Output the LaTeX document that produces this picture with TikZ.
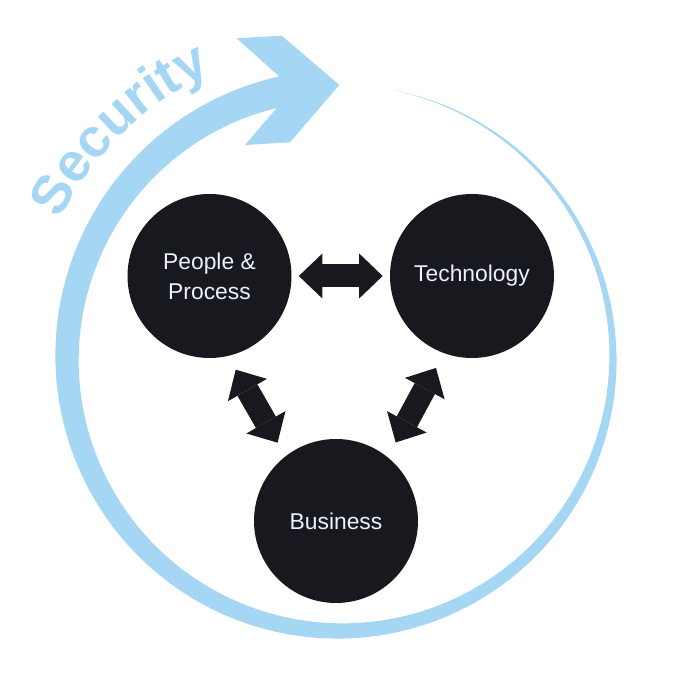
\documentclass[tikz,border=0pt]{standalone}
\usepackage{fontspec}
\setmainfont{Liberation Sans}
\usetikzlibrary{arrows.meta, decorations.text}

\definecolor{ringblue}{RGB}{165,214,244}
\definecolor{hubblack}{RGB}{24,25,30}
\definecolor{labelwhite}{RGB}{236,241,255}

\tikzset{
  hub/.style={circle, fill=hubblack, minimum size=3.28cm, inner sep=0pt,
    align=center, text=labelwhite, font=\fontsize{13}{17}\selectfont},
  link/.style={hubblack, line width=0.46cm,
    {Triangle[width=0.9cm, length=0.47cm, line width=0pt]}-{Triangle[width=0.9cm, length=0.47cm, line width=0pt]}},
}

\begin{document}
\begin{tikzpicture}
  \useasboundingbox (0,0) rectangle (13.52,13.68);

  % centre of the ring
  \coordinate (c) at (6.8,6.52);

  % ring that widens clockwise and ends in an arrow head
  \fill[ringblue]
    plot[domain=79:-257.8, samples=160, variable=\t]
      ({6.8+(5.46+0.0009*(79-\t))*cos(\t)}, {6.52+(5.46+0.0009*(79-\t))*sin(\t)})
    -- (4.734,12.914) -- (5.634,12.966) -- (6.786,11.98)
    -- (5.8,10.834) -- (4.9,10.78)
    -- plot[domain=-255.8:79, samples=160, variable=\t]
      ({6.8+(5.46-0.0009*(79-\t))*cos(\t)}, {6.52+(5.46-0.0009*(79-\t))*sin(\t)})
    -- cycle;

  % label along the ring
  \path[decorate, decoration={text along path, text align=center, text color=ringblue,
      text={|\bfseries\fontsize{31}{31}\selectfont|Security}}]
    (c) ++(162:6.25) arc[start angle=162, end angle=106, radius=6.25];

  % the three parts
  \node[hub] (pp) at (4.19,8.16) {People \&\\Process};
  \node[hub] (tech) at (9.44,8.16) {Technology};
  \node[hub] (bus) at (6.72,3.26) {Business};

  % two-way links
  \draw[link, shorten <=0.14cm, shorten >=0.14cm] (pp) -- (tech);
  \draw[link, shorten <=0.31cm, shorten >=0.31cm] (pp.-77) -- (bus.128);
  \draw[link, shorten <=0.33cm, shorten >=0.33cm] (tech.-110) -- (bus.51);

\end{tikzpicture}
\end{document}
